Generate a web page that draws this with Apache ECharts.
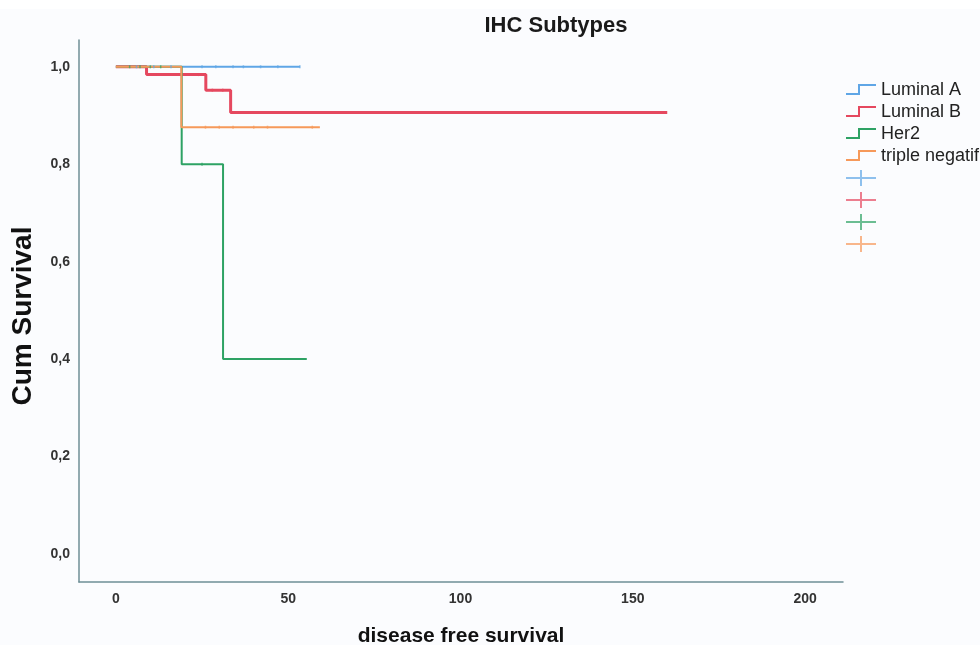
<!DOCTYPE html>
<html>
<head>
<meta charset="utf-8">
<script src="https://cdn.jsdelivr.net/npm/echarts@6/dist/echarts.min.js"></script>
<style>html,body{margin:0;padding:0;background:#fbfcfe;}#c{width:980px;height:645px;}</style>
</head>
<body>
<div id="c"></div>
<script>
// ---- data ----
const seriesNames = ['Luminal A', 'Luminal B', 'Her2', 'triple negatif'];
const lumA_t = [0, 53.4];
const lumA_s = [1.0, 1.0];
const lumB_t = [0, 8.9, 26.1, 33.3, 160];
const lumB_s = [1.0, 0.984, 0.952, 0.906, 0.906];
const her2_t = [0, 19.1, 31.1, 55.4];
const her2_s = [1.0, 0.80, 0.40, 0.40];
const tn_t = [0, 19.0, 59.2];
const tn_s = [1.0, 0.876, 0.876];
// censored observations (time, survival)
const lumA_cens_t = [6, 11, 16, 25, 29, 34, 37, 42, 47, 53.4];
const lumA_cens_s = [1, 1, 1, 1, 1, 1, 1, 1, 1, 1];
const lumB_cens_t = [12, 16, 20, 24, 28, 31];
const lumB_cens_s = [0.984, 0.984, 0.984, 0.984, 0.952, 0.952];
const her2_cens_t = [4, 7, 10, 13, 25];
const her2_cens_s = [1, 1, 1, 1, 0.80];
const tn_cens_t = [26, 30, 34, 40, 44, 57];
const tn_cens_s = [0.876, 0.876, 0.876, 0.876, 0.876, 0.876];
const xTicks = [0, 50, 100, 150, 200];
const yTicks = [0, 0.2, 0.4, 0.6, 0.8, 1.0];

const colors = ['#5fa6e6', '#e5485f', '#2ea264', '#f6995a'];
const widths = [2, 3, 2, 2];
const curveT = [lumA_t, lumB_t, her2_t, tn_t];
const curveS = [lumA_s, lumB_s, her2_s, tn_s];
const censT = [lumA_cens_t, lumB_cens_t, her2_cens_t, tn_cens_t];
const censS = [lumA_cens_s, lumB_cens_s, her2_cens_s, tn_cens_s];

const zip = (a, b) => a.map((v, i) => [v, b[i]]);
const font = "'Liberation Sans', Arial, sans-serif";

const series = [];
seriesNames.forEach((n, i) => {
  series.push({
    name: n, type: 'line', step: 'end', data: zip(curveT[i], curveS[i]),
    showSymbol: false, symbol: 'none', color: colors[i],
    lineStyle: { width: widths[i], color: colors[i] }, z: 2 + i, animation: false
  });
});
seriesNames.forEach((n, i) => {
  series.push({
    name: n + ' censored', type: 'scatter', data: zip(censT[i], censS[i]),
    symbol: 'rect', symbolSize: [1.5, 3], color: colors[i],
    itemStyle: { color: colors[i], opacity: 0.7 }, z: 10, animation: false
  });
});

const stepIcon = 'path://M0,0M30,16M0,12L13,12L13,3L30,3';
const plusIcon = 'path://M0,8L30,8M15,0L15,16';
const legendData = [];
seriesNames.forEach((n, i) => legendData.push({
  name: n, icon: stepIcon,
  itemStyle: { color: 'transparent', borderColor: colors[i], borderWidth: 2 }
}));
seriesNames.forEach((n, i) => legendData.push({
  name: n + ' censored', icon: plusIcon,
  itemStyle: { color: 'transparent', borderColor: colors[i], borderWidth: 2 }
}));

const chart = echarts.init(document.getElementById('c'), null, { renderer: 'canvas' });
chart.setOption({
  backgroundColor: '#fbfcfe',
  animation: false,
  textStyle: { fontFamily: font },
  graphic: [{ type: 'rect', left: 0, top: 0, shape: { width: 980, height: 9 }, style: { fill: '#ffffff' }, silent: true }],
  title: {
    text: 'IHC Subtypes', left: 556, textAlign: 'center', top: 15, padding: 0,
    textStyle: { fontFamily: font, fontSize: 22, fontWeight: 'bold', color: '#1a1a1a' }
  },
  legend: {
    orient: 'vertical', left: 845, top: 81, padding: 0, itemWidth: 30, itemHeight: 16, itemGap: 4,
    selectedMode: false, data: legendData,
    formatter: n => n.endsWith('censored') ? '' : n,
    textStyle: { fontFamily: font, fontSize: 18, color: '#222', lineHeight: 18 }
  },
  grid: { left: 79, width: 764, top: 40, height: 542, containLabel: false, outerBoundsMode: 'none' },
  xAxis: {
    type: 'value', min: -10.7, max: 211,
    name: 'disease free survival', nameLocation: 'middle', nameGap: 44,
    nameTextStyle: { fontFamily: font, fontSize: 21, fontWeight: 'bold', color: '#111' },
    axisLine: { show: true, onZero: false, lineStyle: { color: '#6f8f96', width: 1.5 } },
    axisTick: { show: false },
    splitLine: { show: false },
    axisLabel: { customValues: xTicks, margin: 10, fontSize: 14, fontWeight: 'bold', color: '#333', fontFamily: font }
  },
  yAxis: {
    type: 'value', min: -0.0575, max: 1.055,
    name: 'Cum Survival', nameLocation: 'middle', nameGap: 42, nameRotate: 90,
    nameTextStyle: { fontFamily: font, fontSize: 28, fontWeight: 'bold', color: '#111', padding: [0, 10, 0, 0] },
    axisLine: { show: true, onZero: false, lineStyle: { color: '#6f8f96', width: 1.5 } },
    axisTick: { show: false },
    splitLine: { show: false },
    axisLabel: { customValues: yTicks, margin: 9, fontSize: 14, fontWeight: 'bold', color: '#333', fontFamily: font,
      formatter: v => v.toFixed(1).replace('.', ',') }
  },
  series: series
});
</script>
</body>
</html>
